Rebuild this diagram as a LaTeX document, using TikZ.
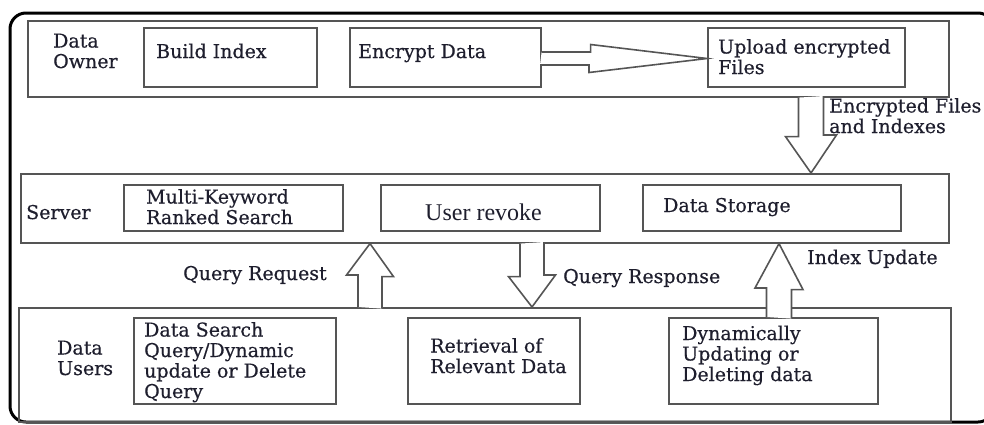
\documentclass[tikz,border=0pt]{standalone}
\usepackage{fontspec}
\setmainfont{DejaVu Serif}[FakeBold=0.5]
\newfontfamily\revokefont{Liberation Serif}
\usetikzlibrary{calc}
\definecolor{ink}{RGB}{30,30,45}
\definecolor{edge}{RGB}{85,85,85}
\tikzset{
  box/.style={draw=edge, line width=1.6pt, inner sep=0pt, anchor=north west},
  lbl/.style={anchor=base west, inner sep=0pt, align=left, text=ink, font=\fontsize{19}{20.5}\selectfont},
  hollow/.style={draw=edge, line width=1.6pt, fill=white, line join=miter},
}
\begin{document}
\begin{tikzpicture}[x=1pt, y=-1pt]
	\useasboundingbox (0,0) rectangle (984,424);
	\draw[line width=3pt, rounded corners=16pt] (10,13) rectangle (994,422);
	% layers
	\node[box, minimum width=921, minimum height=76] (owner) at (27,20) {};
	\node[box, minimum width=928, minimum height=69] (server) at (20,173) {};
	\node[box, minimum width=932, minimum height=114] (users) at (18,307) {};
	% inner boxes
	\node[box, minimum width=173, minimum height=59] (build) at (143,27) {};
	\node[box, minimum width=191, minimum height=59] (encrypt) at (349,27) {};
	\node[box, minimum width=197, minimum height=59] (upload) at (707,27) {};
	\node[box, minimum width=219, minimum height=46] (ranked) at (123,184) {};
	\node[box, minimum width=219, minimum height=46] (revoke) at (380,184) {};
	\node[box, minimum width=258, minimum height=46] (storage) at (642,184) {};
	\node[box, minimum width=202, minimum height=86] (search) at (133,317) {};
	\node[box, minimum width=172, minimum height=86] (retrieval) at (407,317) {};
	\node[box, minimum width=209, minimum height=86] (dynamic) at (668,317) {};
	% arrows
	\coordinate (hay) at (0,58.5);
	\coordinate (efx) at (811,0);
	\coordinate (qrx) at (370,0);
	\coordinate (qsx) at (532,0);
	\coordinate (iux) at (779,0);
	\draw[hollow] ($(encrypt.east |- hay)+(0,-6.5)$) -- ++(49,0) -- ++(0,-7.5) -- (upload.west |- hay) -- ++(-118,14) -- ++(0,-7.5) -- ++(-49,0);
	\draw[hollow] ($(owner.south -| efx)+(-12.5,0)$) -- ++(0,39) -- ++(-13,0) -- (server.north -| efx) -- ++(25.5,-38) -- ++(-13,0) -- ++(0,-39);
	\draw[hollow] ($(users.north -| qrx)+(-12,0)$) -- ++(0,-32) -- ++(-11.5,0) -- (server.south -| qrx) -- ++(23.5,33) -- ++(-11.5,0) -- ++(0,32);
	\draw[hollow] ($(server.south -| qsx)+(-12,0)$) -- ++(0,33) -- ++(-11.5,0) -- (users.north -| qsx) -- ++(23.5,-32) -- ++(-11.5,0) -- ++(0,-33);
	\draw[hollow] ($(dynamic.north -| iux)+(-12.5,0)$) -- ++(0,-29) -- ++(-11.5,0) -- (server.south -| iux) -- ++(24,46) -- ++(-11.5,0) -- ++(0,29);
	% texts (multi-line ones sit on their last line)
	\node[lbl] (tOwner) at (53,68) {Data\\Owner};
	\node[lbl] (tBuild) at (156,58) {Build Index};
	\node[lbl] (tEncrypt) at (358,58) {Encrypt Data};
	\node[lbl] (tUpload) at (718,74) {Upload encrypted\\Files};
	\node[lbl] (tFiles) at (829,133) {Encrypted Files\\and Indexes};
	\node[lbl] (tServer) at (26,219) {Server};
	\node[lbl] (tRanked) at (146,224) {Multi-Keyword\\Ranked Search};
	\node[lbl, font=\revokefont\fontsize{24}{26}\selectfont] (tRevoke) at (425,220) {User revoke};
	\node[lbl] (tStorage) at (663,212) {Data Storage};
	\node[lbl] (tRequest) at (183,280) {Query Request};
	\node[lbl] (tResponse) at (563,283) {Query Response};
	\node[lbl] (tUpdate) at (807,264) {Index Update};
	\node[lbl] (tUsers) at (57,375) {Data\\Users};
	\node[lbl] (tSearch) at (144,398) {Data Search\\Query/Dynamic\\update or Delete\\Query};
	\node[lbl] (tRetrieval) at (430,373) {Retrieval of\\Relevant Data};
	\node[lbl] (tDynamic) at (682,381) {Dynamically\\Updating or\\Deleting data};
\end{tikzpicture}
\end{document}
